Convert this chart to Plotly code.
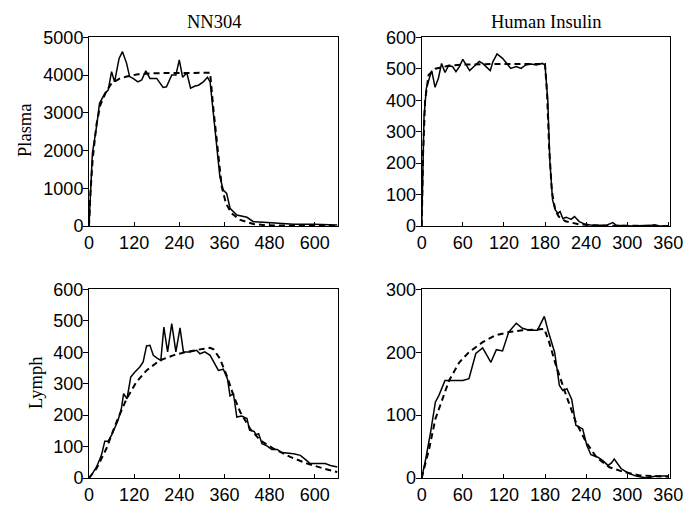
import plotly.graph_objects as go

# ---------------- data ----------------
# NN304 plasma
nn_pl_obs_t = [0, 9, 20, 28, 42, 51, 60, 68, 80, 89, 100, 108, 117, 130, 140, 151, 162, 180, 197, 206,
               220, 231, 240, 249, 260, 270, 282, 291, 304, 315, 322, 331, 340, 348, 357, 366, 375, 393,
               420, 437, 464, 500, 544, 597, 660]
nn_pl_obs_y = [0, 1925, 2630, 3250, 3510, 3600, 4090, 3820, 4440, 4620, 4310, 3960, 3910, 3820, 3870,
               4110, 3910, 3910, 3670, 3690, 4000, 4000, 4400, 3940, 4060, 3650, 3710, 3730, 3820, 3940,
               3820, 2985, 2010, 1305, 950, 865, 470, 290, 230, 115, 97, 70, 44, 44, 26]
nn_pl_fit_t = [0, 4, 10, 20, 30, 45, 60, 80, 100, 130, 180, 322, 331, 344, 353, 364, 379, 402, 437, 473, 660]
nn_pl_fit_y = [0, 900, 1800, 2700, 3200, 3550, 3780, 3900, 3960, 4020, 4050, 4060, 3070, 1925, 1040,
               600, 335, 160, 53, 18, 0]

# Human insulin plasma
hi_pl_obs_t = [0, 3.4, 6.8, 10.7, 14.6, 19.5, 24.4, 29, 34, 39, 45, 50, 55, 60, 67, 70, 77, 84, 89, 94,
               100, 104, 110, 118, 123, 130, 138, 145, 152, 160, 167, 176, 180, 184, 187, 191, 195, 199,
               202, 206, 211, 218, 223, 230, 238, 250, 269, 279, 284, 308, 333, 340, 347, 360]
hi_pl_obs_y = [0, 348, 438, 464, 494, 441, 470, 517, 488, 509, 507, 491, 507, 530, 507, 494, 509, 523,
               517, 507, 494, 523, 547, 533, 519, 501, 507, 501, 512, 515, 512, 517, 512, 400, 210, 83,
               51, 40, 46, 24, 28, 21, 30, 14, 6, 2, 2, 11, 2, 0, 2, 4, 0, 0]
hi_pl_fit_t = [0, 2, 5, 10, 20, 40, 60, 100, 180, 183, 186, 190, 195, 200, 210, 230, 260, 360]
hi_pl_fit_y = [0, 230, 400, 480, 500, 510, 513, 515, 515, 420, 250, 110, 50, 30, 15, 5, 1, 0]

# NN304 lymph
nn_ly_obs_t = [0, 9, 20, 33, 42, 51, 60, 68, 77, 86, 92, 101, 111, 122, 135, 144, 153, 162, 171, 180,
               191, 199, 209, 220, 231, 242, 251, 268, 286, 295, 308, 322, 331, 344, 357, 368, 375, 384,
               393, 406, 420, 427, 439, 444, 451, 460, 473, 486, 500, 513, 544, 562, 575, 588, 606, 628,
               642, 660]
nn_ly_obs_y = [0, 14, 35, 72, 117, 117, 136, 157, 183, 220, 268, 252, 321, 337, 353, 369, 420, 422, 390,
               382, 374, 480, 401, 491, 401, 477, 401, 401, 406, 395, 401, 390, 369, 342, 346, 316, 261,
               268, 194, 197, 189, 152, 148, 138, 141, 109, 102, 91, 91, 81, 77, 72, 59, 46, 46, 46, 40, 35]
nn_ly_fit_t = [0, 20, 46, 73, 100, 126, 153, 188, 224, 260, 295, 322, 331, 348, 366, 384, 402, 428, 455,
               491, 535, 580, 624, 660]
nn_ly_fit_y = [0, 30, 93, 178, 252, 305, 342, 374, 390, 401, 409, 414, 409, 380, 326, 263, 210, 157, 120,
               93, 67, 46, 30, 19]

# Human insulin lymph
hi_ly_obs_t = [0, 6, 13, 20, 25, 34, 45, 60, 69, 79, 89, 101, 109, 118, 127, 138, 147, 157, 169, 179,
               185, 194, 201, 206, 212, 219, 225, 235, 241, 247, 257, 264, 272, 277, 281, 291, 301, 313,
               328, 342, 360]
hi_ly_obs_y = [0, 31, 73, 121, 131, 155, 155, 155, 158, 198, 207, 184, 204, 202, 232, 246, 238, 235, 235,
               257, 232, 200, 147, 139, 142, 125, 84, 78, 52, 37, 33, 28, 20, 24, 30, 15, 8, 3, 0, 3, 3]
hi_ly_fit_t = [0, 11, 20, 30, 40, 55, 69, 89, 108, 128, 147, 167, 179, 186, 196, 211, 225, 240, 255, 274,
               294, 318, 360]
hi_ly_fit_y = [0, 47, 94, 126, 155, 184, 200, 216, 227, 232, 235, 236, 237, 216, 179, 131, 89, 57, 33,
               17, 10, 4, 2]

titles = ["NN304", "Human Insulin"]
row_labels = ["Plasma", "Lymph"]

x_ticks_nn = [0, 120, 240, 360, 480, 600]
x_ticks_hi = [0, 60, 120, 180, 240, 300, 360]
y_ticks_nn_pl = [0, 1000, 2000, 3000, 4000, 5000]
y_ticks_hi_pl = [0, 100, 200, 300, 400, 500, 600]
y_ticks_nn_ly = [0, 100, 200, 300, 400, 500, 600]
y_ticks_hi_ly = [0, 100, 200, 300]

# ---------------- figure ----------------
fig = go.Figure()

panels = [
    ("x", "y", nn_pl_obs_t, nn_pl_obs_y, nn_pl_fit_t, nn_pl_fit_y),
    ("x2", "y2", hi_pl_obs_t, hi_pl_obs_y, hi_pl_fit_t, hi_pl_fit_y),
    ("x3", "y3", nn_ly_obs_t, nn_ly_obs_y, nn_ly_fit_t, nn_ly_fit_y),
    ("x4", "y4", hi_ly_obs_t, hi_ly_obs_y, hi_ly_fit_t, hi_ly_fit_y),
]
for xa, ya, ot, oy, ft, fy in panels:
    fig.add_trace(go.Scatter(x=ft, y=fy, xaxis=xa, yaxis=ya, mode="lines",
                             line=dict(color="black", width=2, dash="6px,4px"),
                             showlegend=False, hoverinfo="skip"))
    fig.add_trace(go.Scatter(x=ot, y=oy, xaxis=xa, yaxis=ya, mode="lines",
                             line=dict(color="black", width=1.5),
                             showlegend=False, hoverinfo="skip"))

tickfont = dict(family="Liberation Sans", size=18, color="black")
common = dict(showgrid=False, zeroline=False, showline=True, linecolor="black", linewidth=1,
              mirror=True, tickcolor="black", tickfont=tickfont,
              tickmode="array", automargin=False)
xcommon = dict(ticks="inside", ticklen=4, **common)
ycommon = dict(ticks="outside", ticklen=5, ticklabelstandoff=-4, **common)

# page body has an 8px margin, so the figure is placed at (8, 8)
W, H, OFF = 690, 497, 8
xl = [(89 - OFF) / W, (338 - OFF) / W]
xr = [(421.7 - OFF) / W, (669.7 - OFF) / W]
yt = [1 - (226 - OFF) / H, 1 - (37.3 - OFF) / H]
yb = [1 - (478 - OFF) / H, 1 - (289.3 - OFF) / H]

fig.update_layout(
    template="none",
    width=W, height=H, margin=dict(l=0, r=0, t=0, b=0, autoexpand=False),
    paper_bgcolor="white", plot_bgcolor="white",
    xaxis=dict(domain=xl, anchor="y", range=[0, 662], tickvals=x_ticks_nn, **xcommon),
    yaxis=dict(domain=yt, anchor="x", range=[0, 5000], tickvals=y_ticks_nn_pl, **ycommon),
    xaxis2=dict(domain=xr, anchor="y2", range=[0, 362], tickvals=x_ticks_hi, **xcommon),
    yaxis2=dict(domain=yt, anchor="x2", range=[0, 600], tickvals=y_ticks_hi_pl, **ycommon),
    xaxis3=dict(domain=xl, anchor="y3", range=[0, 662], tickvals=x_ticks_nn, **xcommon),
    yaxis3=dict(domain=yb, anchor="x3", range=[0, 600], tickvals=y_ticks_nn_ly, **ycommon),
    xaxis4=dict(domain=xr, anchor="y4", range=[0, 362], tickvals=x_ticks_hi, **xcommon),
    yaxis4=dict(domain=yb, anchor="x4", range=[0, 300], tickvals=y_ticks_hi_ly, **ycommon),
)

serif = dict(family="Liberation Serif", size=18.5, color="black")
fig.add_annotation(text=titles[0], xref="paper", yref="paper", x=(xl[0] + xl[1]) / 2, y=1 - (22 - OFF) / H,
                   showarrow=False, font=serif, xanchor="center", yanchor="middle")
fig.add_annotation(text=titles[1], xref="paper", yref="paper", x=(xr[0] + xr[1]) / 2, y=1 - (22 - OFF) / H,
                   showarrow=False, font=serif, xanchor="center", yanchor="middle")
fig.add_annotation(text=row_labels[0], xref="paper", yref="paper", x=(25 - OFF) / W, y=1 - (131 - OFF) / H,
                   showarrow=False, font=serif, textangle=-90, xanchor="center", yanchor="middle")
fig.add_annotation(text=row_labels[1], xref="paper", yref="paper", x=(36 - OFF) / W, y=1 - (383 - OFF) / H,
                   showarrow=False, font=serif, textangle=-90, xanchor="center", yanchor="middle")

fig.write_html("out.html")
